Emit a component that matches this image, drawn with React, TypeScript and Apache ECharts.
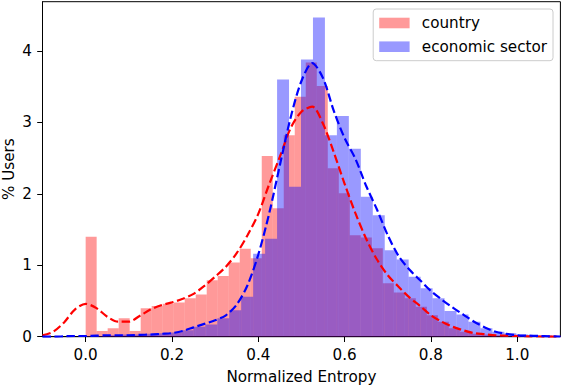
import React, { useEffect, useRef } from "react";
import * as echarts from "echarts";

// Histogram bins (density, % users)
const countryBinStart = 0;
const countryBinWidth = 0.0255;
const countryDensity = [
  1.40, 0.08, 0.12, 0.26, 0.08, 0.40, 0.43, 0.46, 0.48, 0.54,
  0.59, 0.79, 0.85, 1.04, 1.23, 1.10, 2.53, 1.80, 2.82, 3.36,
  3.84, 3.51, 2.36, 2.01, 1.42, 1.39, 1.24, 0.75, 0.62, 0.54,
  0.42, 0.30, 0.21, 0.12, 0.07, 0.04, 0.03, 0.02, 0.01, 0.01,
];

const sectorBinStart = 0;
const sectorBinWidth = 0.02772;
const sectorDensity = [
  0.01, 0.01, 0.02, 0.03, 0.03, 0.04, 0.05, 0.06, 0.09, 0.14,
  0.17, 0.26, 0.37, 0.56, 1.16, 1.37, 3.60, 2.10, 3.88, 4.47,
  2.82, 3.09, 2.63, 1.96, 1.70, 1.21, 1.08, 0.84, 0.68, 0.54,
  0.36, 0.31, 0.21, 0.12, 0.07, 0.05, 0.03, 0.02, 0.02, 0.01,
];

// KDE curves, sampled
const kdeX = [
  -0.1, -0.075, -0.05, -0.025, 0, 0.025, 0.05, 0.075, 0.1, 0.125,
  0.15, 0.175, 0.2, 0.225, 0.25, 0.275, 0.3, 0.325, 0.35, 0.375,
  0.4, 0.425, 0.45, 0.475, 0.5, 0.525, 0.55, 0.575, 0.6, 0.625,
  0.65, 0.675, 0.7, 0.725, 0.75, 0.775, 0.8, 0.825, 0.85, 0.875,
  0.9, 0.925, 0.95, 0.975, 1.0, 1.025, 1.05, 1.075, 1.1,
];
const countryKde = [
  0.02, 0.07, 0.20, 0.38, 0.46, 0.40, 0.28, 0.21, 0.21, 0.29,
  0.38, 0.44, 0.48, 0.53, 0.60, 0.71, 0.84, 0.98, 1.17, 1.42,
  1.72, 2.13, 2.52, 2.92, 3.15, 3.22, 2.98, 2.58, 2.14, 1.73,
  1.37, 1.08, 0.86, 0.70, 0.55, 0.43, 0.30, 0.21, 0.14, 0.09,
  0.05, 0.035, 0.02, 0.015, 0.01, 0.005, 0.003, 0.001, 0.0,
];
const sectorKde = [
  0.0, 0.0, 0.005, 0.01, 0.01, 0.015, 0.02, 0.02, 0.02, 0.025,
  0.03, 0.04, 0.05, 0.08, 0.13, 0.18, 0.23, 0.30, 0.45, 0.72,
  1.15, 1.72, 2.40, 3.07, 3.58, 3.83, 3.62, 3.16, 2.78, 2.49,
  2.11, 1.78, 1.42, 1.13, 0.94, 0.79, 0.64, 0.52, 0.41, 0.31,
  0.21, 0.13, 0.07, 0.04, 0.02, 0.015, 0.01, 0.005, 0.003,
];

const xTicks = [0, 0.2, 0.4, 0.6, 0.8, 1.0];
const xRange = [-0.1, 1.1];
const yRange = [0, 4.69];

const FONT = "DejaVu Sans";
const FS = 15.2;

function histData(start: number, width: number, dens: number[]) {
  return dens.map((d, i) => [start + i * width, start + (i + 1) * width, d]);
}

function makeRender(fill: string) {
  return (_params: any, api: any) => {
    const p0 = api.coord([api.value(0), api.value(2)]);
    const p1 = api.coord([api.value(1), 0]);
    return {
      type: "rect",
      shape: { x: p0[0], y: p0[1], width: p1[0] - p0[0], height: p1[1] - p0[1] },
      style: { fill },
    };
  };
}

export default function App() {
  const ref = useRef<HTMLDivElement>(null);
  useEffect(() => {
    if (!ref.current) return;
    const chart = echarts.init(ref.current, undefined, { renderer: "svg" });
    const red = "rgba(255,0,0,0.4)";
    const blue = "rgba(0,0,255,0.4)";
    chart.setOption({
      animation: false,
      textStyle: { fontFamily: FONT },
      grid: {
        left: 42.5,
        right: 1.6,
        top: 1.7,
        bottom: 49.3,
        containLabel: false,
        outerBoundsMode: "none",
        show: true,
        borderColor: "#000",
        borderWidth: 1,
        backgroundColor: "transparent",
      },
      legend: {
        data: [
          { name: "country", icon: "rect" },
          { name: "economic sector", icon: "rect" },
        ],
        orient: "vertical",
        align: "left",
        right: 9,
        top: 9,
        itemWidth: 30.4,
        itemHeight: 10.6,
        itemGap: 7.7,
        padding: [6, 6, 6, 6],
        backgroundColor: "rgba(255,255,255,0.8)",
        borderColor: "#cccccc",
        borderWidth: 1,
        borderRadius: 3,
        selectedMode: false,
        textStyle: { fontSize: FS, color: "#000", fontFamily: FONT, lineHeight: 16, padding: [0, 0, 0, 7.2] },
      },
      xAxis: {
        type: "value",
        min: xRange[0],
        max: xRange[1],
        name: "Normalized Entropy",
        nameLocation: "middle",
        nameGap: 33,
        nameTextStyle: { fontSize: FS, color: "#000", fontFamily: FONT },
        axisLine: { show: true, onZero: false, lineStyle: { color: "#000", width: 1 } },
        axisTick: { show: true, length: 5.3, lineStyle: { color: "#000" }, customValues: xTicks },
        axisLabel: {
          fontSize: FS,
          color: "#000",
          fontFamily: FONT,
          margin: 10.5,
          customValues: xTicks,
          formatter: (v: number) => v.toFixed(1),
        },
        splitLine: { show: false },
      },
      yAxis: {
        type: "value",
        min: yRange[0],
        max: yRange[1],
        interval: 1,
        name: "% Users",
        nameLocation: "middle",
        nameGap: 26,
        nameMoveOverlap: false,
        nameTextStyle: { fontSize: FS, color: "#000", fontFamily: FONT },
        axisLine: { show: true, onZero: false, lineStyle: { color: "#000", width: 1 } },
        axisTick: { show: true, length: 5.3, lineStyle: { color: "#000" } },
        axisLabel: { fontSize: FS, color: "#000", fontFamily: FONT, margin: 10.5, showMaxLabel: false },
        splitLine: { show: false },
      },
      series: [
        {
          name: "country",
          type: "custom",
          renderItem: makeRender(red),
          itemStyle: { color: red },
          encode: { x: [0, 1], y: 2 },
          clip: true,
          data: histData(countryBinStart, countryBinWidth, countryDensity),
          z: 1,
        },
        {
          name: "economic sector",
          type: "custom",
          renderItem: makeRender(blue),
          itemStyle: { color: blue },
          encode: { x: [0, 1], y: 2 },
          clip: true,
          data: histData(sectorBinStart, sectorBinWidth, sectorDensity),
          z: 2,
        },
        {
          name: "country KDE",
          type: "line",
          data: kdeX.map((x, i) => [x, countryKde[i]]),
          showSymbol: false,
          smooth: 0.3,
          lineStyle: { color: "#ff0000", width: 2.2, type: [8.4, 3.6] },
          z: 3,
        },
        {
          name: "sector KDE",
          type: "line",
          data: kdeX.map((x, i) => [x, sectorKde[i]]),
          showSymbol: false,
          smooth: 0.3,
          lineStyle: { color: "#0000ff", width: 2.2, type: [8.4, 3.6] },
          z: 4,
        },
      ],
    });
    return () => chart.dispose();
  }, []);
  return (
    <div
      ref={ref}
      style={{ position: "absolute", left: 0, top: 0, width: 562, height: 386, background: "#fff" }}
    />
  );
}
